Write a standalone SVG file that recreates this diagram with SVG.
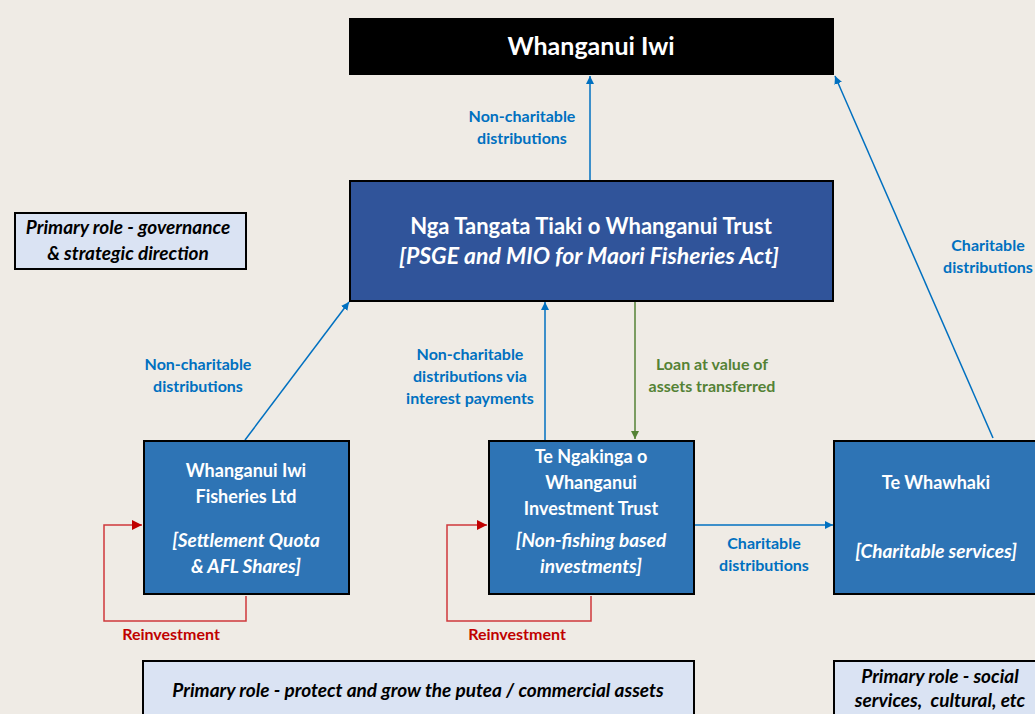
<svg xmlns="http://www.w3.org/2000/svg" width="1035" height="714" viewBox="0 0 1035 714">
<style>
text{font-family:Lato,"Liberation Sans",sans-serif;font-weight:bold;text-anchor:middle}
.w{fill:#ffffff}
.k{fill:#000000}
.i{font-style:italic}
.b{fill:#0070c0;font-size:16px}
.g{fill:#548235;font-size:16px}
.r{fill:#c00000;font-size:16px}
.box{stroke:#000;stroke-width:2}
.node{font-size:18px}
.ni{font-size:19px;font-style:italic}
.role{font-size:19px;font-style:italic;fill:#000}
.ln{fill:none;stroke:#0070c0;stroke-width:1.5}
</style>
<defs>
<marker id="ab" viewBox="0 0 10 10" refX="10" refY="5" markerWidth="8" markerHeight="8" markerUnits="userSpaceOnUse" orient="auto"><path d="M0,0 L10,5 L0,10 z" fill="#0070c0"/></marker>
<marker id="ag" viewBox="0 0 10 10" refX="10" refY="5" markerWidth="8" markerHeight="8" markerUnits="userSpaceOnUse" orient="auto"><path d="M0,0 L10,5 L0,10 z" fill="#548235"/></marker>
<marker id="ar" viewBox="0 0 10 10" refX="10" refY="5" markerWidth="10" markerHeight="10" markerUnits="userSpaceOnUse" orient="auto"><path d="M0,0 L10,5 L0,10 z" fill="#c00000"/></marker>
</defs>
<rect width="1035" height="714" fill="#efebe5"/>
<g id="connectors">
<path class="ln" d="M590,180 V76" marker-end="url(#ab)"/>
<path class="ln" d="M245,440 L349,302" marker-end="url(#ab)"/>
<path class="ln" d="M545,440 V302" marker-end="url(#ab)"/>
<path d="M635,302 V439" fill="none" stroke="#548235" stroke-width="1.5" marker-end="url(#ag)"/>
<path class="ln" d="M695,525 H833" marker-end="url(#ab)"/>
<path class="ln" d="M993,438 L835,76" marker-end="url(#ab)"/>
<path d="M246,596 V621 H104 V525 H142" fill="none" stroke="#d0393b" stroke-width="1.5" marker-end="url(#ar)"/>
<path d="M591,596 V621 H447 V525 H487" fill="none" stroke="#d0393b" stroke-width="1.5" marker-end="url(#ar)"/>
<text class="b"><tspan x="522" y="122">Non-charitable</tspan><tspan x="522" y="144">distributions</tspan></text>
<text class="b"><tspan x="198" y="370">Non-charitable</tspan><tspan x="198" y="392">distributions</tspan></text>
<text class="b"><tspan x="470" y="360">Non-charitable</tspan><tspan x="470" y="382">distributions via</tspan><tspan x="470" y="404">interest payments</tspan></text>
<text class="g"><tspan x="712" y="370">Loan at value of</tspan><tspan x="712" y="392">assets transferred</tspan></text>
<text class="b"><tspan x="764" y="549">Charitable</tspan><tspan x="764" y="571">distributions</tspan></text>
<text class="b"><tspan x="988" y="251">Charitable</tspan><tspan x="988" y="273">distributions</tspan></text>
<text class="r" x="171" y="640">Reinvestment</text>
<text class="r" x="517" y="640">Reinvestment</text>
</g>
<g id="iwi">
<rect x="349" y="18" width="485" height="57" fill="#000"/>
<text class="w" x="591" y="55" font-size="25">Whanganui Iwi</text>
</g>
<g id="trust">
<rect class="box" x="350" y="181" width="483" height="120" fill="#30549a"/>
<text class="w" x="591" y="234" font-size="22">Nga Tangata Tiaki o Whanganui Trust</text>
<text class="w i" x="589" y="264" font-size="23">[PSGE and MIO for Maori Fisheries Act]</text>
</g>
<g id="governance">
<rect class="box" x="15" y="213" width="231" height="56" fill="#dae3f3"/>
<text class="role"><tspan x="128" y="234">Primary role - governance</tspan><tspan x="128" y="260">&amp; strategic direction</tspan></text>
</g>
<g id="fisheries">
<rect class="box" x="144" y="441" width="205" height="153" fill="#2e74b5"/>
<text class="w node"><tspan x="246" y="477">Whanganui Iwi</tspan><tspan x="246" y="503">Fisheries Ltd</tspan></text>
<text class="w ni"><tspan x="246" y="547">[Settlement Quota</tspan><tspan x="246" y="573">&amp; AFL Shares]</tspan></text>
</g>
<g id="investment">
<rect class="box" x="489" y="441" width="205" height="153" fill="#2e74b5"/>
<text class="w node"><tspan x="591" y="463">Te Ngakinga o</tspan><tspan x="591" y="489">Whanganui</tspan><tspan x="591" y="515">Investment Trust</tspan></text>
<text class="w ni"><tspan x="591" y="547">[Non-fishing based</tspan><tspan x="591" y="573">investments]</tspan></text>
</g>
<g id="whawhaki">
<rect class="box" x="834" y="441" width="210" height="153" fill="#2e74b5"/>
<text class="w node" x="936" y="489">Te Whawhaki</text>
<text class="w ni" x="936" y="558">[Charitable services]</text>
</g>
<g id="role-commercial">
<rect class="box" x="143" y="661" width="551" height="60" fill="#dae3f3"/>
<text class="role" x="418" y="697">Primary role - protect and grow the putea / commercial assets</text>
</g>
<g id="role-social">
<rect class="box" x="834" y="661" width="210" height="60" fill="#dae3f3"/>
<text class="role" xml:space="preserve"><tspan x="940" y="683">Primary role - social</tspan><tspan x="940" y="707">services,  cultural, etc</tspan></text>
</g>
</svg>
